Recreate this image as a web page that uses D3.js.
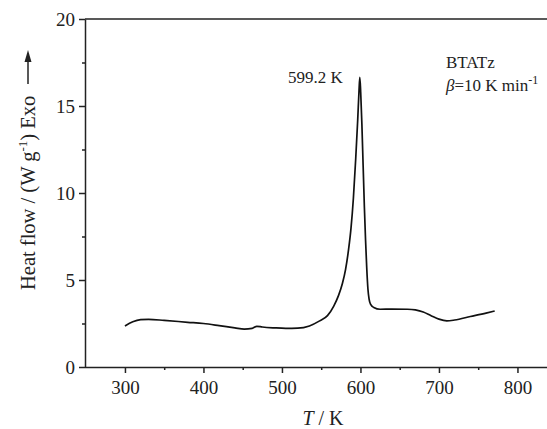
<!DOCTYPE html>
<html><head><meta charset="utf-8">
<script src="https://cdn.jsdelivr.net/npm/d3@7"></script>
<style>
html,body{margin:0;padding:0;background:#fff;overflow:hidden;}
text{font-family:"Liberation Serif","Times New Roman",serif;fill:#222;}
</style></head>
<body>
<svg id="c" width="547" height="429"></svg>
<script>
const temps = [300,310,320,330,350,380,400,420,440,452,462,468,475,490,505,520,535,548,558,566,572,577,581,585,588,591,594,596.5,598.2,599.2,600.3,601.8,603.4,605,606.5,608,609.5,611,613,617,625,640,660,670,680,690,700,710,720,740,760,771];
const heat  = [2.36,2.6,2.72,2.74,2.68,2.57,2.5,2.38,2.25,2.18,2.22,2.34,2.3,2.25,2.22,2.23,2.36,2.65,2.95,3.5,4.1,4.8,5.6,6.8,8.0,9.7,12.0,14.2,15.9,16.65,15.8,14.0,11.6,9.2,7.3,5.7,4.5,3.9,3.6,3.42,3.32,3.33,3.32,3.28,3.16,2.95,2.75,2.65,2.7,2.9,3.1,3.22];
const xTicks = [300,400,500,600,700,800];
const yTicks = [0,5,10,15,20];
const peakLabel = "599.2 K";
const sampleName = "BTATz";

const svg = d3.select("#c");
const x = d3.scaleLinear().domain([250,850]).range([85.7, 85.7+600*0.785]);
const y = d3.scaleLinear().domain([0,20]).range([367,19]);
const col = "#222";

const xMinor = d3.range(250,851,50).filter(v=>!xTicks.includes(v) && v>250);
const yMinor = d3.range(2.5,20,5);

const xa = svg.append("g").attr("transform","translate(0,367)")
  .call(d3.axisBottom(x).tickValues(xTicks).tickSize(6).tickSizeOuter(0).tickPadding(8));
const xm = svg.append("g").attr("transform","translate(0,367)")
  .call(d3.axisBottom(x).tickValues(xMinor).tickSize(3).tickFormat(""));
xm.select(".domain").remove();
const ya = svg.append("g").attr("transform","translate(85,0)")
  .call(d3.axisLeft(y).tickValues(yTicks).tickSize(6).tickSizeOuter(0).tickPadding(4));
const ym = svg.append("g").attr("transform","translate(85,0)")
  .call(d3.axisLeft(y).tickValues(yMinor).tickSize(3).tickFormat(""));
ym.select(".domain").remove();
[xa,xm,ya,ym].forEach(g=>{
  g.selectAll("path,line").attr("stroke",col).attr("stroke-width",1.5);
  g.selectAll("text").attr("font-size",19).attr("font-family","Liberation Serif, serif").attr("fill",col);
});
xa.select(".domain").attr("d","M85,0.5H547");
svg.append("line").attr("x1",85).attr("x2",547).attr("y1",y(20)).attr("y2",y(20))
  .attr("stroke",col).attr("stroke-width",1.5);

const pts = temps.map((t,i)=>[t,heat[i]]);
svg.append("path").datum(pts)
  .attr("fill","none").attr("stroke","#111").attr("stroke-width",1.7)
  .attr("stroke-linejoin","round")
  .attr("d", d3.line().x(d=>x(d[0])).y(d=>y(d[1])).curve(d3.curveMonotoneX));

svg.append("text").attr("x",288).attr("y",83).attr("font-size",17).text(peakLabel);
svg.append("text").attr("x",446).attr("y",68).attr("font-size",17).text(sampleName);
const b = svg.append("text").attr("x",446).attr("y",91).attr("font-size",17);
b.append("tspan").attr("font-style","italic").text("β");
b.append("tspan").text("=10 K min");
b.append("tspan").attr("font-size",12).attr("dy",-7).text("-1");

const xl = svg.append("text").attr("x",323).attr("y",425).attr("font-size",20).attr("text-anchor","middle");
xl.append("tspan").attr("font-style","italic").text("T");
xl.append("tspan").text(" / K");

const yl = svg.append("text").attr("transform","translate(35,290) rotate(-90)").attr("font-size",20.5);
yl.append("tspan").text("Heat flow / (W g");
yl.append("tspan").attr("font-size",13).attr("dy",-8).text("-1");
yl.append("tspan").attr("dy",8).text(")  Exo");
svg.append("line").attr("x1",28).attr("x2",28).attr("y1",84).attr("y2",60)
  .attr("stroke",col).attr("stroke-width",1.5);
svg.append("path").attr("d","M28,50 L24.5,62 L31.5,62 Z").attr("fill",col);
</script>
</body></html>
